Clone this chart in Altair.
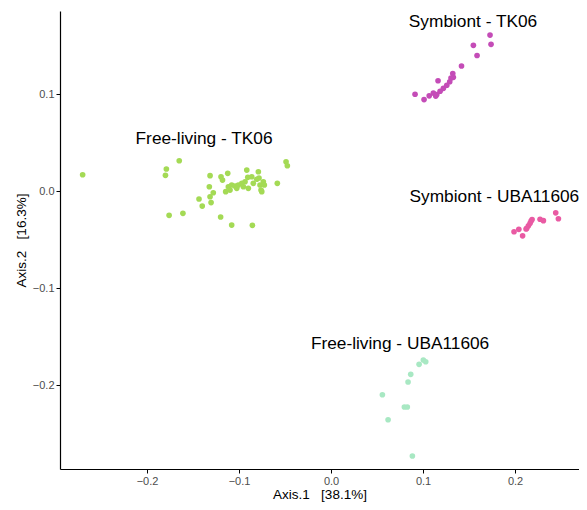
import altair as alt
import pandas as pd

groups = ["Free-living - TK06", "Symbiont - TK06", "Symbiont - UBA11606", "Free-living - UBA11606"]
colors = ["#A4DA55", "#C44CB7", "#E95AA3", "#A8E8C3"]

fl_tk06_x = [-0.270, -0.165, -0.179, -0.180, -0.176, -0.161, -0.1435, -0.140, -0.1304, -0.1315,
             -0.128, -0.1323, -0.1315, -0.1196, -0.118, -0.1123, -0.120, -0.108, -0.0855, -0.0916,
             -0.079, -0.0489, -0.0475, -0.0584, -0.1145, -0.1116, -0.108, -0.1043, -0.1008, -0.097,
             -0.0935, -0.0905, -0.0899, -0.0862, -0.0845, -0.0808, -0.0772, -0.0753, -0.0736, -0.0725,
             -0.1098, -0.1025, -0.0953, -0.0761, -0.0783]
fl_tk06_y = [0.0168, 0.0312, 0.0227, 0.0162, -0.0251, -0.0230, -0.0082, -0.0155, -0.0119, -0.0059,
             -0.0018, 0.0044, 0.0158, 0.0147, 0.0113, 0.0182, -0.0268, -0.0351, -0.0354, 0.0216,
             0.0199, 0.0302, 0.0261, 0.0079, -0.0007, 0.0044, 0.0062, 0.0052, 0.0062, 0.0079,
             0.0096, 0.0141, 0.0028, 0.0147, 0.0079, 0.0121, 0.0062, -0.0007, 0.0096, 0.0062,
             0.0010, 0.0028, 0.0044, 0.0010, 0.0134]

sym_tk06_x = [0.1728, 0.1739, 0.1547, 0.1587, 0.1418, 0.1323, 0.1329, 0.1163, 0.0913, 0.1011,
              0.1067, 0.1112, 0.1149, 0.1185, 0.1221, 0.1258, 0.1290, 0.1138, 0.1304]
sym_tk06_y = [0.1608, 0.1512, 0.1502, 0.1397, 0.1289, 0.1211, 0.1172, 0.1137, 0.0998, 0.0943,
              0.0981, 0.1010, 0.0995, 0.1029, 0.1059, 0.1090, 0.1127, 0.0979, 0.1165]

sym_uba_x = [0.1989, 0.2041, 0.2082, 0.2120, 0.2145, 0.2174, 0.2185, 0.2272, 0.2308, 0.2442,
             0.2471, 0.2127, 0.2163]
sym_uba_y = [-0.0420, -0.0395, -0.0462, -0.0392, -0.0358, -0.0309, -0.0294, -0.0291, -0.0306, -0.0225,
             -0.0286, -0.0385, -0.0333]

fl_uba_x = [0.1003, 0.1029, 0.0957, 0.0866, 0.0837, 0.0558, 0.0797, 0.0829, 0.0620, 0.0884]
fl_uba_y = [-0.1742, -0.1760, -0.1787, -0.1890, -0.1969, -0.2100, -0.2227, -0.2227, -0.2358, -0.2732]

label_x = [-0.138, 0.1543, 0.1775, 0.075]
label_y = [0.0536, 0.1742, -0.0062, -0.1577]

tick_values = [-0.2, -0.1, 0.0, 0.1, 0.2]

rows = []
for g, xs, ys in zip(groups,
                     [fl_tk06_x, sym_tk06_x, sym_uba_x, fl_uba_x],
                     [fl_tk06_y, sym_tk06_y, sym_uba_y, fl_uba_y]):
    for a, b in zip(xs, ys):
        rows.append({"x": a, "y": b, "group": g})
df = pd.DataFrame(rows)
lab = pd.DataFrame({"x": label_x, "y": label_y, "group": groups})

nb = "\u00a0"
xscale = alt.Scale(domain=[-0.2946, 0.2695], nice=False, zero=False)
yscale = alt.Scale(domain=[-0.2866, 0.1856], nice=False, zero=False)

xaxis = alt.Axis(title=f"Axis.1{nb*3}[38.1%]", values=tick_values, format=".1f", grid=False,
                 domainColor="black", domainWidth=1.2, tickColor="black", tickSize=4,
                 labelColor="#4d4d4d", labelFontSize=11, labelFont="Liberation Sans",
                 titleFont="Liberation Sans", titleFontSize=13.5, titleFontWeight="normal",
                 titleColor="black", labelPadding=2, titlePadding=1)
yaxis = alt.Axis(title=f"Axis.2{nb*3}[16.3%]", values=tick_values, format=".1f", grid=False,
                 domainColor="black", domainWidth=1.2, tickColor="black", tickSize=4,
                 labelColor="#4d4d4d", labelFontSize=11, labelFont="Liberation Sans",
                 titleFont="Liberation Sans", titleFontSize=13.5, titleFontWeight="normal",
                 titleColor="black", labelPadding=2, titlePadding=4)

color = alt.Color("group:N", scale=alt.Scale(domain=groups, range=colors), legend=None)

points = alt.Chart(df).mark_circle(size=32, opacity=1).encode(
    x=alt.X("x:Q", scale=xscale, axis=xaxis),
    y=alt.Y("y:Q", scale=yscale, axis=yaxis),
    color=color,
)

labels = alt.Chart(lab).mark_text(fontSize=17.3, font="Liberation Sans", color="black",
                                   align="center", baseline="middle").encode(
    x=alt.X("x:Q", scale=xscale),
    y=alt.Y("y:Q", scale=yscale),
    text="group:N",
)

chart = (points + labels).properties(
    width=519, height=458,
    autosize=alt.AutoSizeParams(type="none"),
    padding={"left": 52, "top": 3, "right": 0, "bottom": 33},
).configure_view(stroke=None)

chart.save("out.html", embed_options={"renderer": "svg", "actions": False})
